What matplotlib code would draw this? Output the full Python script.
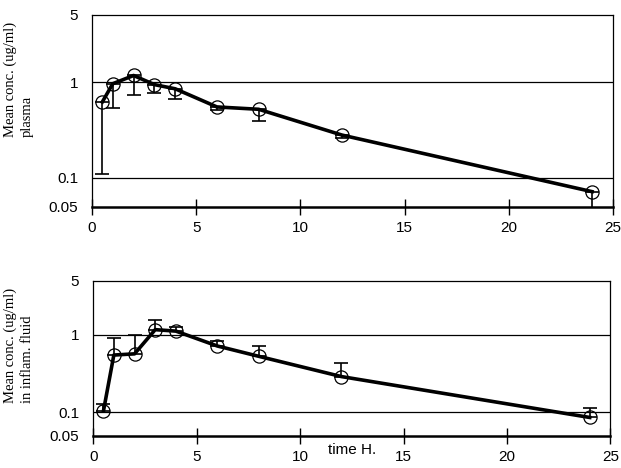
import matplotlib
matplotlib.use("Agg")
import matplotlib.pyplot as plt
from matplotlib.ticker import FixedLocator, NullLocator, FixedFormatter

# plasma concentrations (mean, lower error)
t_plasma = [0.5, 1, 2, 3, 4, 6, 8, 12, 24]
c_plasma = [0.62, 0.96, 1.17, 0.94, 0.85, 0.55, 0.52, 0.28, 0.072]
err_plasma = [0.51, 0.42, 0.44, 0.17, 0.19, 0.04, 0.13, 0.02, 0.03]

# inflammatory fluid concentrations (mean, upper error)
t_fluid = [0.5, 1, 2, 3, 4, 6, 8, 12, 24]
c_fluid = [0.105, 0.55, 0.57, 1.17, 1.12, 0.72, 0.53, 0.29, 0.086]
err_fluid = [0.025, 0.35, 0.43, 0.38, 0.13, 0.11, 0.2, 0.145, 0.029]

y_ticks = [0.05, 0.1, 1, 5]
y_tick_labels = ["0.05", "0.1", "1", "5"]
x_ticks = [0, 5, 10, 15, 20, 25]

fig = plt.figure(figsize=(6.21, 4.68), dpi=100)
ax1 = fig.add_axes([0.148, 0.558, 0.839, 0.410])
ax2 = fig.add_axes([0.150, 0.069, 0.833, 0.331])

panels = [
    (ax1, t_plasma, c_plasma, ([err_plasma, [0] * len(err_plasma)])),
    (ax2, t_fluid, c_fluid, ([[0] * len(err_fluid), err_fluid])),
]

for ax, t, c, err in panels:
    ax.set_yscale("log")
    ax.set_ylim(0.05, 5)
    ax.set_xlim(0, 25)
    ax.errorbar(t, c, yerr=err, fmt="none", ecolor="black", elinewidth=1.2,
                capsize=5, capthick=1.2, zorder=2)
    ax.plot(t, c, color="black", linewidth=2.6, zorder=3)
    ax.plot(t, c, "o", markersize=9.5, markerfacecolor="none",
            markeredgecolor="black", markeredgewidth=0.9, zorder=4)

    ax.yaxis.set_major_locator(FixedLocator(y_ticks))
    ax.yaxis.set_major_formatter(FixedFormatter(y_tick_labels))
    ax.yaxis.set_minor_locator(NullLocator())
    for yv in [0.1, 1]:
        ax.axhline(yv, color="black", linewidth=0.9, zorder=1)
    ax.set_xticks(x_ticks)
    ax.tick_params(axis="y", length=0, pad=10, labelsize=11)
    ax.tick_params(axis="x", direction="inout", length=11, width=1, pad=5, labelsize=11)
    for lab in ax.get_xticklabels() + ax.get_yticklabels():
        lab.set_fontfamily("Liberation Sans")
    for side in ["top", "right", "left"]:
        ax.spines[side].set_linewidth(0.9)
    ax.spines["bottom"].set_linewidth(1.8)

fig.text(0.030, 1 - 79 / 468, "Mean conc. (ug/ml)\nplasma", rotation=90,
         ha="center", va="center", multialignment="left", linespacing=1.35,
         fontfamily="Liberation Serif", fontsize=10.5)
fig.text(0.030, 1 - 345 / 468, "Mean conc. (ug/ml)\nin inflam. fluid", rotation=90,
         ha="center", va="center", multialignment="left", linespacing=1.35,
         fontfamily="Liberation Serif", fontsize=10.5)

ax2.text(0.5, -0.095, "time H.", transform=ax2.transAxes, ha="center", va="center",
         fontfamily="Liberation Sans", fontsize=11)

fig.savefig("out.png", dpi=100)
